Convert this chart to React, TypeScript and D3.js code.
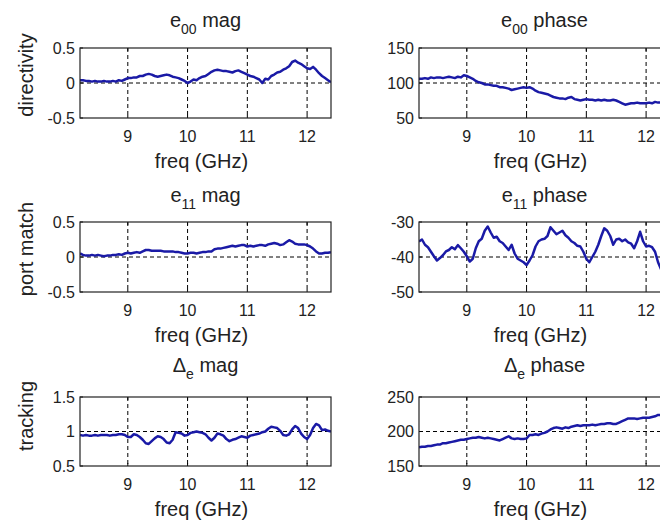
import React from "react";
import * as d3 from "d3";

// ---- data ----
const FREQ_START = 8.2;
const FREQ_STEP = 0.05;
const X_DOMAIN: [number, number] = [8.2, 12.4];
const X_TICKS = [9, 10, 11, 12];

const e00Mag = [
  0.04, 0.04, 0.03, 0.03, 0.02, 0.03, 0.02, 0.02, 0.03, 0.02, 0.02, 0.03, 0.02, 0.04, 0.03, 0.05,
  0.07, 0.07, 0.08, 0.08, 0.10, 0.10, 0.12, 0.13, 0.12, 0.10, 0.09, 0.10, 0.11, 0.12, 0.11, 0.09,
  0.08, 0.07, 0.05, 0.03, 0.00, 0.02, 0.05, 0.04, 0.07, 0.09, 0.10, 0.13, 0.16, 0.18, 0.19, 0.18,
  0.17, 0.17, 0.16, 0.15, 0.17, 0.18, 0.16, 0.14, 0.12, 0.10, 0.09, 0.07, 0.05, 0.00, 0.06, 0.05,
  0.10, 0.12, 0.15, 0.16, 0.19, 0.21, 0.24, 0.30, 0.32, 0.29, 0.27, 0.24, 0.21, 0.20, 0.23, 0.19,
  0.14, 0.10, 0.07, 0.04, 0.01,
];

const e00Phase = [
  106, 106, 107, 106, 108, 107, 108, 108, 107, 108, 109, 108, 107, 109, 108, 111,
  110, 108, 106, 103, 101, 100, 98, 98, 97, 96, 96, 94, 94, 93, 92, 90,
  91, 92, 93, 94, 93, 94, 92, 89, 87, 86, 85, 84, 82, 80, 79, 78,
  78, 77, 79, 80, 77, 76, 75, 76, 77, 76, 76, 75, 76, 75, 76, 75,
  75, 76, 75, 73, 71, 69, 70, 71, 71, 72, 71, 71, 71, 72, 71, 73,
  72, 72, 73, 72, 72,
];

const e11Mag = [
  0.05, 0.03, 0.02, 0.02, 0.03, 0.02, 0.03, 0.02, 0.01, 0.02, 0.02, 0.03, 0.03, 0.04, 0.03, 0.05,
  0.06, 0.05, 0.06, 0.07, 0.06, 0.08, 0.10, 0.10, 0.09, 0.09, 0.09, 0.09, 0.08, 0.08, 0.08, 0.08,
  0.07, 0.07, 0.06, 0.05, 0.05, 0.06, 0.06, 0.05, 0.06, 0.07, 0.07, 0.08, 0.08, 0.11, 0.12, 0.12,
  0.13, 0.14, 0.15, 0.16, 0.15, 0.16, 0.17, 0.17, 0.15, 0.16, 0.15, 0.16, 0.17, 0.17, 0.16, 0.18,
  0.19, 0.20, 0.19, 0.17, 0.18, 0.21, 0.24, 0.22, 0.19, 0.18, 0.18, 0.18, 0.17, 0.15, 0.12, 0.08,
  0.05, 0.05, 0.06, 0.06, 0.07,
];

const e11Phase = [
  -35.6, -35.0, -36.5, -37.2, -38.5, -39.8, -41.0, -40.3, -39.5, -38.4, -38.0, -37.2, -37.8, -36.6, -37.5, -38.5,
  -39.8, -41.3, -40.5, -37.5, -35.5, -34.8, -32.5, -31.3, -33.0, -34.5, -34.2, -35.5, -36.0, -37.0, -38.0, -36.5,
  -39.0, -40.5, -41.0, -41.5, -42.3, -41.0, -39.5, -37.0, -35.5, -35.0, -34.8, -34.0, -31.5, -32.5, -33.5, -33.0,
  -32.5, -33.8, -34.5, -35.5, -36.0, -36.8, -37.0, -38.5, -40.5, -41.5, -40.0, -38.5, -36.5, -34.0, -31.8, -32.5,
  -34.0, -36.5, -35.0, -34.8, -35.5, -35.0, -35.8, -36.2, -37.5, -35.5, -32.8, -35.5, -37.0, -36.8, -37.2, -38.5,
  -41.5, -43.5, -44.5, -45.0, -45.5,
];

const deltaMag = [
  0.95, 0.94, 0.95, 0.94, 0.94, 0.95, 0.94, 0.95, 0.95, 0.95, 0.94, 0.95, 0.95, 0.96, 0.96, 0.95,
  0.92, 0.92, 0.96, 0.95, 0.92, 0.88, 0.83, 0.82, 0.86, 0.90, 0.93, 0.92, 0.89, 0.84, 0.83, 0.88,
  0.99, 0.98, 0.97, 0.94, 0.95, 0.98, 0.99, 1.00, 0.99, 0.98, 0.96, 0.91, 0.87, 0.91, 0.97, 0.96,
  0.94, 0.89, 0.86, 0.88, 0.89, 0.91, 0.93, 0.92, 0.91, 0.94, 0.95, 0.96, 0.97, 0.99, 1.00, 1.04,
  1.07, 1.06, 1.05, 1.01, 0.95, 0.94, 0.96, 1.03, 1.08, 1.05, 0.97, 0.92, 0.89, 0.95, 1.05, 1.11,
  1.09, 1.02, 1.03, 1.01, 1.00,
];

const deltaPhase = [
  177, 178, 178, 179, 179, 180, 181, 181, 183, 183, 184, 185, 186, 187, 188, 188,
  189, 190, 191, 191, 192, 191, 190, 191, 190, 189, 188, 187, 189, 191, 193, 190,
  189, 190, 189, 189, 190, 195, 195, 196, 195, 197, 198, 200, 203, 205, 206, 205,
  204, 206, 205, 207, 208, 209, 208, 209, 209, 209, 210, 209, 210, 211, 211, 212,
  212, 211, 211, 213, 215, 217, 219, 219, 219, 218, 219, 220, 220, 220, 221, 222,
  224, 224, 225, 226, 226,
];

const titleMain = ["e", "e", "e", "e", "\u0394", "\u0394"];
const titleSub = ["00", "00", "11", "11", "e", "e"];
const titleRest = ["mag", "phase", "mag", "phase", "mag", "phase"];
const rowLabels = ["directivity", "port match", "tracking"];
const yTicksList = [
  [-0.5, 0, 0.5],
  [50, 100, 150],
  [-0.5, 0, 0.5],
  [-50, -40, -30],
  [0.5, 1, 1.5],
  [150, 200, 250],
];
const seriesList = [e00Mag, e00Phase, e11Mag, e11Phase, deltaMag, deltaPhase];

// ---- layout ----
const W = 660;
const H = 521;
const COLS: [number, number][] = [
  [80, 331],
  [419, 670],
];
const ROWS: [number, number][] = [
  [48, 118],
  [222, 292],
  [397, 466],
];
const TITLE_Y = [27, 202, 372];
const YLABEL_Y = [75, 249, 416];
const LINE_COLOR = "#1a1aa6";
const TEXT_COLOR = "#222";
const FONT = "'Liberation Sans', Arial, Helvetica, sans-serif";

function Panel({ idx }: { idx: number }) {
  const col = idx % 2;
  const row = Math.floor(idx / 2);
  const [x0, x1] = COLS[col];
  const [y0, y1] = ROWS[row];
  const ticks = yTicksList[idx];
  const data = seriesList[idx];
  const x = d3.scaleLinear().domain(X_DOMAIN).range([x0, x1]);
  const y = d3
    .scaleLinear()
    .domain([ticks[0], ticks[ticks.length - 1]])
    .range([y1, y0]);
  const pts: [number, number][] = data.map((v, i) => [FREQ_START + i * FREQ_STEP, v]);
  const line = d3
    .line<[number, number]>()
    .x((d) => x(d[0]))
    .y((d) => y(d[1]));
  const clipId = `clip-${idx}`;
  const cx = (x0 + x1) / 2;
  const midTick = ticks[1];
  return (
    <g>
      <defs>
        <clipPath id={clipId}>
          <rect x={x0} y={y0} width={x1 - x0} height={y1 - y0} />
        </clipPath>
      </defs>
      <rect x={x0} y={y0} width={x1 - x0} height={y1 - y0} fill="#fff" />
      {/* grid */}
      {X_TICKS.map((t) => (
        <line
          key={`gx${t}`}
          x1={x(t)}
          x2={x(t)}
          y1={y0}
          y2={y1}
          stroke="#000"
          strokeWidth={1}
          strokeDasharray="4,3"
        />
      ))}
      <line
        x1={x0}
        x2={x1}
        y1={y(midTick)}
        y2={y(midTick)}
        stroke="#000"
        strokeWidth={1}
        strokeDasharray="4,3"
      />
      {/* ticks */}
      {X_TICKS.map((t) => (
        <g key={`tx${t}`}>
          <line x1={x(t)} x2={x(t)} y1={y1} y2={y1 - 3} stroke="#000" />
          <line x1={x(t)} x2={x(t)} y1={y0} y2={y0 + 3} stroke="#000" />
        </g>
      ))}
      {ticks.map((t) => (
        <line key={`ty${t}`} x1={x0} x2={x0 + 3} y1={y(t)} y2={y(t)} stroke="#000" />
      ))}
      {/* data */}
      <path
        d={line(pts) || ""}
        fill="none"
        stroke={LINE_COLOR}
        strokeWidth={2.5}
        strokeLinejoin="round"
        clipPath={`url(#${clipId})`}
      />
      {/* frame */}
      <rect
        x={x0}
        y={y0}
        width={x1 - x0}
        height={y1 - y0}
        fill="none"
        stroke="#222"
        strokeWidth={1.2}
      />
      {/* x tick labels */}
      {X_TICKS.map((t) => (
        <text
          key={`lx${t}`}
          x={x(t)}
          y={y1 + 24}
          textAnchor="middle"
          fontSize={16}
          fill={TEXT_COLOR}
        >
          {t}
        </text>
      ))}
      {/* y tick labels */}
      {ticks.map((t) => (
        <text
          key={`ly${t}`}
          x={x0 - 5}
          y={y(t)}
          textAnchor="end"
          dominantBaseline="central"
          fontSize={16}
          fill={TEXT_COLOR}
        >
          {String(t)}
        </text>
      ))}
      {/* x label */}
      <text x={cx - 4} y={y1 + 50} textAnchor="middle" fontSize={20} fill={TEXT_COLOR}>
        freq (GHz)
      </text>
      {/* title */}
      <text x={cx} y={TITLE_Y[row]} textAnchor="middle" fontSize={20} fill={TEXT_COLOR}>
        {titleMain[idx]}
        <tspan fontSize={14} dy={7}>
          {titleSub[idx]}
        </tspan>
        <tspan dy={-7}>{" " + titleRest[idx]}</tspan>
      </text>
      {col === 0 && (
        <text
          transform={`translate(33,${YLABEL_Y[row]}) rotate(-90)`}
          textAnchor="middle"
          fontSize={20}
          fill={TEXT_COLOR}
        >
          {rowLabels[row]}
        </text>
      )}
    </g>
  );
}

export default function App() {
  return (
    <svg
      width={W}
      height={H}
      viewBox={`0 0 ${W} ${H}`}
      style={{ position: "absolute", left: 0, top: 0, background: "#fff", fontFamily: FONT }}
    >
      <rect x={0} y={0} width={W} height={H} fill="#fff" />
      {d3.range(6).map((i) => (
        <Panel key={i} idx={i} />
      ))}
    </svg>
  );
}
